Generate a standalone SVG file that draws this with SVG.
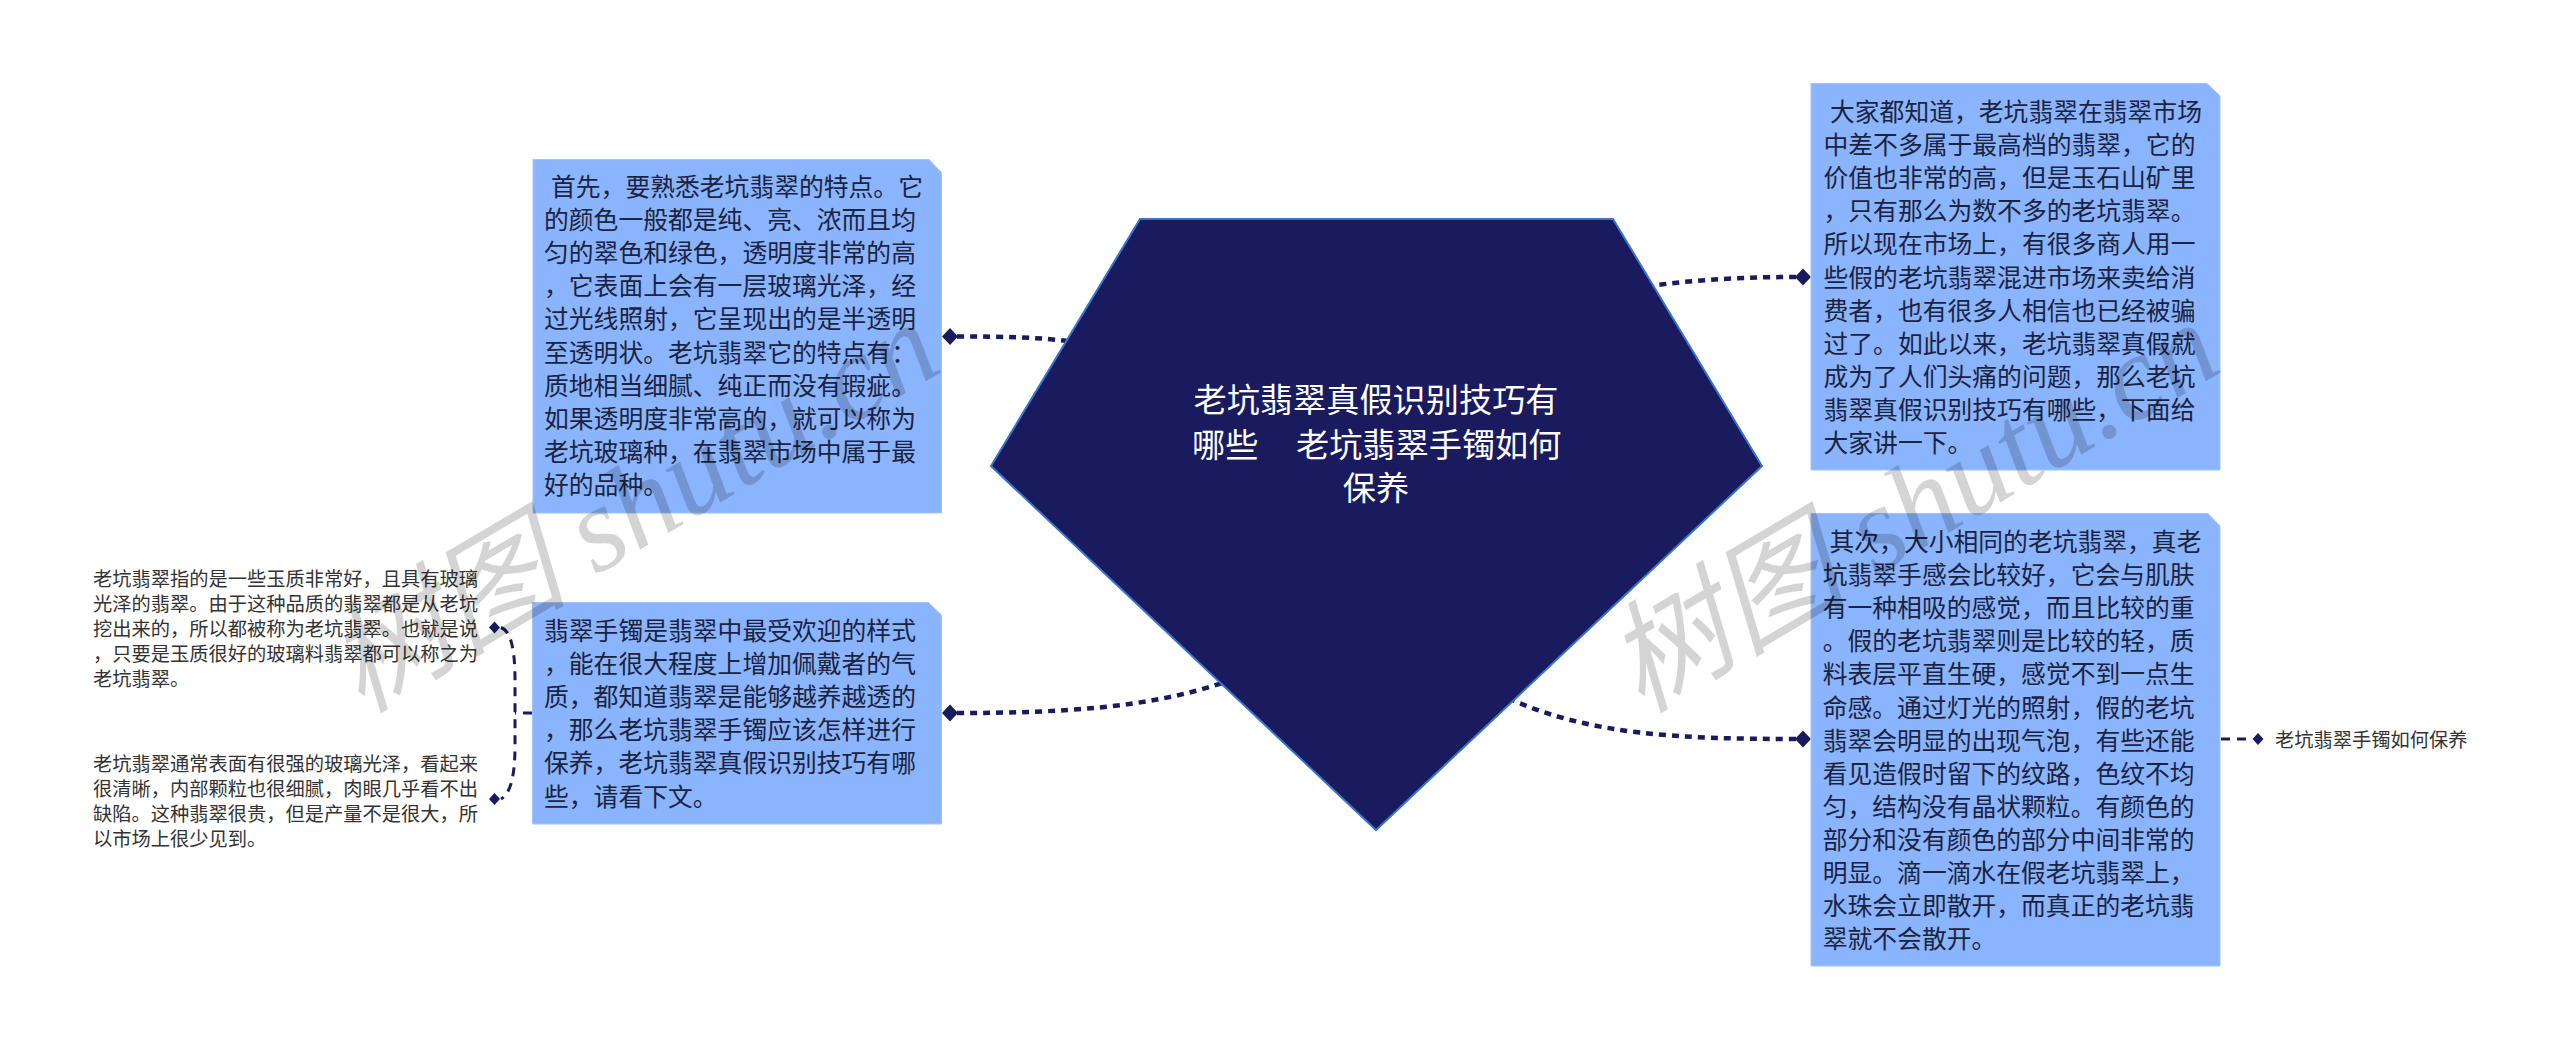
<svg xmlns="http://www.w3.org/2000/svg" width="2560" height="1050" viewBox="0 0 2560 1050">
<style>
text{font-family:"Noto Sans CJK SC","Noto Sans",sans-serif}
.box{fill:#8AB4FD;stroke:#A3C4F8;stroke-width:1}
.t{font-size:24.8px;fill:#1A2340}
.s{font-size:19.25px;fill:#333}
.c{font-size:33.2px;fill:#fff}
.link{fill:none;stroke:#1A1A5E;stroke-width:4.500;stroke-dasharray:7 6}
.thin{fill:none;stroke:#1A1A5E;stroke-width:3;stroke-dasharray:9 7}
.dia{fill:#1A1A5E}
.wm{font-family:"Liberation Serif","Noto Sans CJK SC",serif;font-style:italic;font-size:121px;fill:#000;fill-opacity:.17}
</style>
<rect width="2560" height="1050" fill="#fff"/>
<g id="connectors">
<path class="link" d="M957 336.500C1000 336.500 1040 337 1075 342"/>
<path class="link" d="M957 713C1060 713 1150 708 1225 682"/>
<path class="link" d="M1796 277C1750 277 1700 279 1650 286"/>
<path class="link" d="M1796 739C1680 739 1590 735 1510 699"/>
<path class="thin" d="M501 627.500C511 631 515 650 515 680L515 745C515 775 511 793 501 799"/>
<path class="thin" d="M532 713L515 713"/>
<path class="thin" d="M2221 739L2252 739"/>
<path class="dia" d="M950 328L958 336.500L950 345L942 336.500Z"/>
<path class="dia" d="M950 704.500L958 713L950 721.500L942 713Z"/>
<path class="dia" d="M1803 268.500L1811 277L1803 285.500L1795 277Z"/>
<path class="dia" d="M1803 730.500L1811 739L1803 747.500L1795 739Z"/>
<path class="dia" d="M494.500 621.500L500 627.500L494.500 633.500L489 627.500Z"/>
<path class="dia" d="M494.500 793L500 799L494.500 805L489 799Z"/>
<path class="dia" d="M2258 733L2263.500 739L2258 745L2252.500 739Z"/>
</g>
<g id="center">
<polygon points="1140,219 1613,219 1762,466 1376,830 991,466" fill="#1A1A5E" stroke="#3A74CC" stroke-width="2"/>
<text class="c" x="1376" y="412" text-anchor="middle">老坑翡翠真假识别技巧有</text>
<text class="c" x="1192" y="457">哪些<tspan x="1296">老坑翡翠手镯如何</tspan></text>
<text class="c" x="1376" y="500" text-anchor="middle">保养</text>
</g>
<g id="node-1">
<path class="box" d="M533 159.500H929L941.500 172.500V513H533Z"/>
<text class="t" y="196"><tspan x="551">首先，要熟悉老坑翡翠的特点。它</tspan><tspan x="544" dy="33.100">的颜色一般都是纯、亮、浓而且均</tspan><tspan x="544" dy="33.100">匀的翠色和绿色，透明度非常的高</tspan><tspan x="544" dy="33.100">，它表面上会有一层玻璃光泽，经</tspan><tspan x="544" dy="33.100">过光线照射，它呈现出的是半透明</tspan><tspan x="544" dy="33.100">至透明状。老坑翡翠它的特点有：</tspan><tspan x="544" dy="33.100">质地相当细腻、纯正而没有瑕疵。</tspan><tspan x="544" dy="33.100">如果透明度非常高的，就可以称为</tspan><tspan x="544" dy="33.100">老坑玻璃种，在翡翠市场中属于最</tspan><tspan x="544" dy="33.100">好的品种。</tspan></text>
</g>
<g id="node-2">
<path class="box" d="M532.500 602.500H928.500L941.500 615V824H532.500Z"/>
<text class="t" y="640"><tspan x="544">翡翠手镯是翡翠中最受欢迎的样式</tspan><tspan x="544" dy="33.100">，能在很大程度上增加佩戴者的气</tspan><tspan x="544" dy="33.100">质，都知道翡翠是能够越养越透的</tspan><tspan x="544" dy="33.100">，那么老坑翡翠手镯应该怎样进行</tspan><tspan x="544" dy="33.100">保养，老坑翡翠真假识别技巧有哪</tspan><tspan x="544" dy="33.100">些，请看下文。</tspan></text>
</g>
<g id="node-3">
<path class="box" d="M1811 83.500H2207L2220 96V470H1811Z"/>
<text class="t" y="121"><tspan x="1830">大家都知道，老坑翡翠在翡翠市场</tspan><tspan x="1823.500" dy="33.100">中差不多属于最高档的翡翠，它的</tspan><tspan x="1823.500" dy="33.100">价值也非常的高，但是玉石山矿里</tspan><tspan x="1823.500" dy="33.100">，只有那么为数不多的老坑翡翠。</tspan><tspan x="1823.500" dy="33.100">所以现在市场上，有很多商人用一</tspan><tspan x="1823.500" dy="33.100">些假的老坑翡翠混进市场来卖给消</tspan><tspan x="1823.500" dy="33.100">费者，也有很多人相信也已经被骗</tspan><tspan x="1823.500" dy="33.100">过了。如此以来，老坑翡翠真假就</tspan><tspan x="1823.500" dy="33.100">成为了人们头痛的问题，那么老坑</tspan><tspan x="1823.500" dy="33.100">翡翠真假识别技巧有哪些，下面给</tspan><tspan x="1823.500" dy="33.100">大家讲一下。</tspan></text>
</g>
<g id="node-4">
<path class="box" d="M1811 513.500H2208L2220 526V966H1811Z"/>
<text class="t" y="551"><tspan x="1829.500">其次，大小相同的老坑翡翠，真老</tspan><tspan x="1822.700" dy="33.100">坑翡翠手感会比较好，它会与肌肤</tspan><tspan x="1822.700" dy="33.100">有一种相吸的感觉，而且比较的重</tspan><tspan x="1822.700" dy="33.100">。假的老坑翡翠则是比较的轻，质</tspan><tspan x="1822.700" dy="33.100">料表层平直生硬，感觉不到一点生</tspan><tspan x="1822.700" dy="33.100">命感。通过灯光的照射，假的老坑</tspan><tspan x="1822.700" dy="33.100">翡翠会明显的出现气泡，有些还能</tspan><tspan x="1822.700" dy="33.100">看见造假时留下的纹路，色纹不均</tspan><tspan x="1822.700" dy="33.100">匀，结构没有晶状颗粒。有颜色的</tspan><tspan x="1822.700" dy="33.100">部分和没有颜色的部分中间非常的</tspan><tspan x="1822.700" dy="33.100">明显。滴一滴水在假老坑翡翠上，</tspan><tspan x="1822.700" dy="33.100">水珠会立即散开，而真正的老坑翡</tspan><tspan x="1822.700" dy="33.100">翠就不会散开。</tspan></text>
</g>
<g id="leaf-1">
<text class="s" y="586"><tspan x="93">老坑翡翠指的是一些玉质非常好，且具有玻璃</tspan><tspan x="93" dy="25">光泽的翡翠。由于这种品质的翡翠都是从老坑</tspan><tspan x="93" dy="25">挖出来的，所以都被称为老坑翡翠。也就是说</tspan><tspan x="93" dy="25">，只要是玉质很好的玻璃料翡翠都可以称之为</tspan><tspan x="93" dy="25">老坑翡翠。</tspan></text>
</g>
<g id="leaf-2">
<text class="s" y="771"><tspan x="93">老坑翡翠通常表面有很强的玻璃光泽，看起来</tspan><tspan x="93" dy="25">很清晰，内部颗粒也很细腻，肉眼几乎看不出</tspan><tspan x="93" dy="25">缺陷。这种翡翠很贵，但是产量不是很大，所</tspan><tspan x="93" dy="25">以市场上很少见到。</tspan></text>
</g>
<g id="leaf-3">
<text class="s" x="2275" y="747">老坑翡翠手镯如何保养</text>
</g>
<g id="watermark">
<text class="wm" transform="translate(361 714) rotate(-30.500)">树图 shutu.cn</text>
<text class="wm" transform="translate(1641 714) rotate(-30.500)">树图 shutu.cn</text>
</g>
</svg>
